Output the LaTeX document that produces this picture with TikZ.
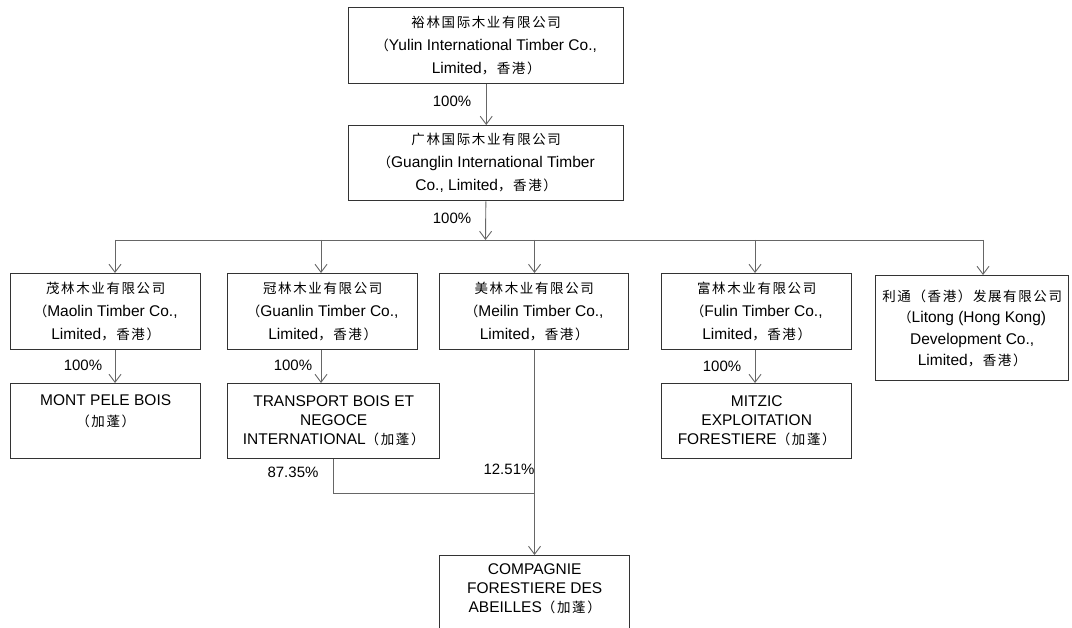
\documentclass[tikz,border=0pt]{standalone}
\usepackage{fontspec}
\setmainfont{Liberation Sans}
\newfontfamily\cjk[LetterSpace=12]{Noto Sans CJK SC}
\usetikzlibrary{positioning,calc,arrows.meta}
\definecolor{boxline}{HTML}{333333}
\definecolor{linkline}{HTML}{666666}
\newcommand{\zh}[1]{{\cjk\fontsize{13.5}{22}\selectfont #1}}

\begin{document}
\begin{tikzpicture}[x=1pt,y=-1pt,
    firm/.style={draw=boxline, line width=1.4pt, anchor=north west, align=center, inner sep=2pt, font=\fontsize{15.5}{23}\selectfont},
    firmlow/.style={firm, font=\fontsize{15.5}{19}\selectfont},
    link/.style={draw=linkline, line width=0.9pt},
    owns/.style={link, -{Straight Barb[length=8pt,width=12pt]}},
    pct/.style={font=\fontsize{15}{18}\selectfont}]
    \useasboundingbox (0,0) rectangle (1072,628);
    \fill[white] (0,0) rectangle (1072,628);
    \clip (0,0) rectangle (1072,628);

    % Holding chain
    \node[firm, minimum width=275, minimum height=76] (yulin) at (348,7) {\zh{裕林国际木业有限公司}\\\zh{（}Yulin International Timber Co.,\\Limited\zh{，香港）}};
    \node[firm, minimum width=275, minimum height=75] (guang) at (348,125) {\zh{广林国际木业有限公司}\\\zh{（}Guanglin International Timber\\Co., Limited\zh{，香港）}};
    \draw[owns] (yulin) -- (guang); \node[pct] (p0) at (452,101) {100\%};

    % Hong Kong subsidiaries
    \node[firm, minimum width=190, minimum height=76] (maolin) at (10,273) {\zh{茂林木业有限公司}\\\zh{（}Maolin Timber Co.,\\Limited\zh{，香港）}};
    \node[firm, minimum width=190, minimum height=76] (guanlin) at (227,273) {\zh{冠林木业有限公司}\\\zh{（}Guanlin Timber Co.,\\Limited\zh{，香港）}};
    \node[firm, minimum width=189, minimum height=76] (meilin) at (439,273) {\zh{美林木业有限公司}\\\zh{（}Meilin Timber Co.,\\Limited\zh{，香港）}};
    \node[firm, minimum width=190, minimum height=76] (fulin) at (661,273) {\zh{富林木业有限公司}\\\zh{（}Fulin Timber Co.,\\Limited\zh{，香港）}};
    \node[firm, minimum width=193, minimum height=105, font=\fontsize{15.5}{21.5}\selectfont] (litong) at (875,275) {\zh{利通（香港）发展有限公司}\\\zh{（}Litong (Hong Kong)\\Development Co.,\\Limited\zh{，香港）}};

    % Bus
    \coordinate (bus) at (485.5,240);
    \coordinate (d1) at (115,240); \coordinate (d2) at (321,240); \coordinate (d3) at (534.5,240);
    \coordinate (d4) at (755,240); \coordinate (d5) at (983,240);
    \draw[owns] (guang) -- (bus); \node[pct] (p1) at (452,218) {100\%};
    \draw[link] (d1) -- (d5);
    \foreach \d/\f in {d1/maolin,d2/guanlin,d3/meilin,d4/fulin,d5/litong}
        \draw[owns] (\d) -- (\d |- \f.north);

    % Gabon companies
    \node[firmlow, minimum width=190, minimum height=75, font=\fontsize{15.5}{21}\selectfont] (mont) at (10,383) {MONT PELE BOIS\\\zh{（加蓬）}\\\mbox{}};
    \node[firmlow, minimum width=212, minimum height=75] (transport) at (227,383) {TRANSPORT BOIS ET\\NEGOCE\\INTERNATIONAL\zh{（加蓬）}};
    \node[firmlow, minimum width=190, minimum height=75] (mitzic) at (661,383) {MITZIC\\EXPLOITATION\\FORESTIERE\zh{（加蓬）}};
    \node[firmlow, minimum width=190, minimum height=122] (abeilles) at (439,555) {COMPAGNIE\\FORESTIERE DES\\ABEILLES\zh{（加蓬）}\\\mbox{}\\\mbox{}\\\mbox{}};

    \draw[owns] (maolin.south -| d1) -- (mont.north -| d1); \node[pct] (p2) at (83,365) {100\%};
    \draw[owns] (guanlin.south -| d2) -- (transport.north -| d2); \node[pct] (p3) at (293,365) {100\%};
    \draw[owns] (fulin.south -| d4) -- (mitzic.north -| d4); \node[pct] (p4) at (722,366) {100\%};

    % Joint holding
    \coordinate (join) at (534.5,493);
    \draw[owns] (meilin.south -| d3) -- (abeilles.north -| d3);
    \draw[link] (transport.south) |- (join);
    \node[pct] (p5) at (293,472) {87.35\%};
    \node[pct] (p6) at (509,469) {12.51\%};
\end{tikzpicture}
\end{document}
